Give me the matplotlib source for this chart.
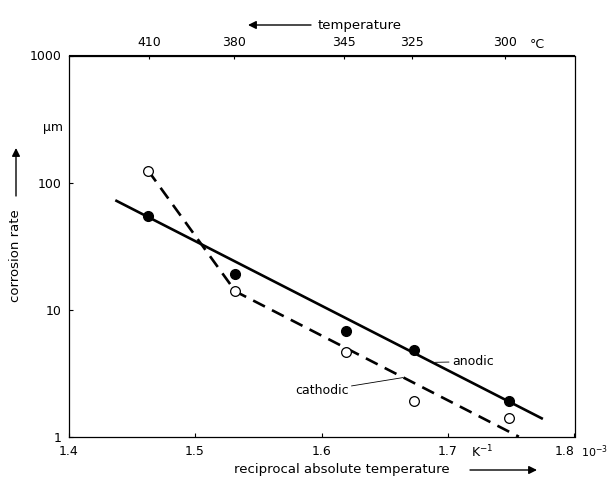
import numpy as np
import matplotlib.pyplot as plt
from matplotlib.patches import FancyArrowPatch

plt.rcParams['font.family'] = ['DejaVu Sans']

# reciprocal absolute temperature (10^-3 K^-1) of the measurements
x_pts = [1.463, 1.532, 1.619, 1.673, 1.748]
anodic = [55, 19.1, 6.8, 4.8, 1.9]
cathodic = [124, 13.9, 4.6, 1.9, 1.4]

# fitted lines
anodic_fit_x = [1.437, 1.775]
anodic_fit_y = [72.6, 1.38]
cathodic_fit_x = [1.463, 1.532, 1.756]
cathodic_fit_y = [124, 13.9, 1.0]

top_ticks = [410, 380, 345, 325, 300]
W, H = 611, 480
FS = 9


def fp(px, py):
    # pixel (from top-left) -> figure fraction
    return (px / W, 1 - py / H)


fig = plt.figure(figsize=(6.11, 4.8), dpi=100)
ax = fig.add_axes([68.5 / W, 1 - 436.7 / H, 506 / W, 381.2 / H])

ax.plot(anodic_fit_x, anodic_fit_y, color='black', lw=1.9, solid_capstyle='butt')
ax.plot(cathodic_fit_x, cathodic_fit_y, color='black', lw=1.9, dashes=(5, 3))
ax.plot(x_pts, anodic, 'o', color='black', ms=7, zorder=5)
ax.plot(x_pts, cathodic, 'o', mfc='white', mec='black', mew=0.9, ms=7, zorder=5)

ax.set_yscale('log')
ax.set_xlim(1.4, 1.8)
ax.set_ylim(1, 1000)
ax.set_xticks([1.4, 1.5, 1.6, 1.7, 1.8])
ax.set_xticklabels(['1.4', '1.5', '1.6', '1.7', '1.8'])
ax.get_xticklabels()[-1].set_ha('right')
ax.set_yticks([1, 10, 100, 1000])
ax.set_yticklabels(['1', '10', '100', '1000'])
ax.minorticks_off()
ax.tick_params(axis='both', direction='in', length=3, width=0.8, labelsize=FS)
ax.tick_params(axis='x', pad=6)
ax.tick_params(axis='y', pad=5)
for s in ax.spines.values():
    s.set_linewidth(0.9)

sec = ax.secondary_xaxis('top', functions=(lambda v: 1000 / v - 273.15,
                                           lambda t: 1000 / (t + 273.15)))
sec.set_xticks(top_ticks)
sec.set_xticklabels([str(t) for t in top_ticks])
sec.tick_params(direction='in', length=3, width=0.8, labelsize=FS, pad=5)
sec.minorticks_off()

# annotations
ax.annotate('anodic', xy=(1.690, 3.85), xytext=(1.703, 3.9), fontsize=FS,
            va='center', ha='left',
            arrowprops=dict(arrowstyle='-', lw=0.6, color='black', shrinkA=0, shrinkB=0))
ax.annotate('cathodic', xy=(1.6645, 2.92), xytext=(1.6215, 2.3), fontsize=FS,
            va='center', ha='right',
            arrowprops=dict(arrowstyle='-', lw=0.6, color='black', shrinkA=0, shrinkB=0))

fig.text(*fp(63, 128), 'µm', ha='right', va='center', fontsize=FS)
fig.text(*fp(537, 45), '°C', ha='center', va='center', fontsize=FS)
fig.text(*fp(482, 452), 'K$^{-1}$', ha='center', va='center', fontsize=FS)
fig.text(*fp(608, 452), '10$^{-3}$', ha='right', va='center', fontsize=FS - 1)

fig.text(*fp(342, 470), 'reciprocal absolute temperature', ha='center', va='center', fontsize=FS + 0.5)
fig.text(*fp(360, 25), 'temperature', ha='center', va='center', fontsize=FS + 0.5)
fig.text(*fp(16, 256), 'corrosion rate', ha='center', va='center', rotation=90, fontsize=FS + 0.5)

arrow = dict(arrowstyle='-|>', lw=1.0, color='black', mutation_scale=12, shrinkA=0, shrinkB=0)
fig.add_artist(FancyArrowPatch(fp(470, 470), fp(537, 470), transform=fig.transFigure, **arrow))
fig.add_artist(FancyArrowPatch(fp(311, 25), fp(248, 25), transform=fig.transFigure, **arrow))
fig.add_artist(FancyArrowPatch(fp(16, 196), fp(16, 148), transform=fig.transFigure, **arrow))

fig.savefig('out.png', dpi=100)
